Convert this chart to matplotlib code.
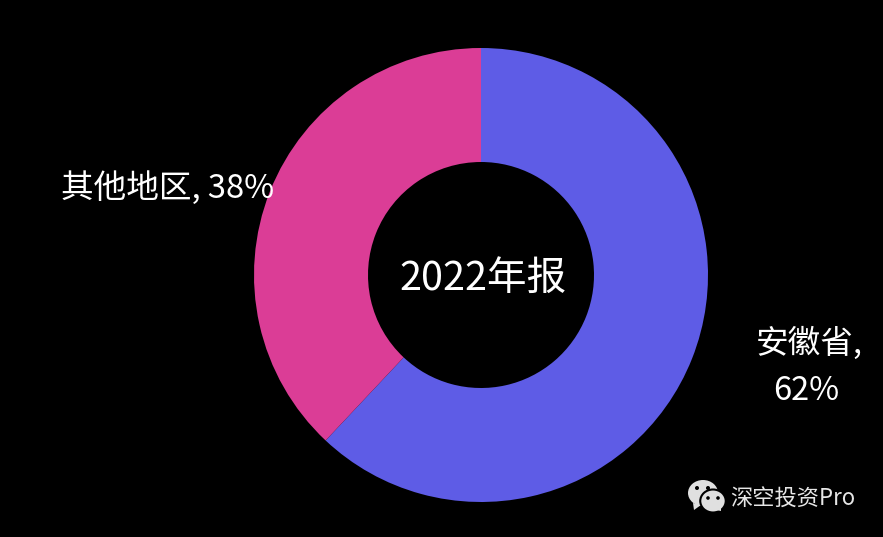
import matplotlib
matplotlib.use('Agg')
import matplotlib.pyplot as plt
from matplotlib.patches import Ellipse, Polygon

plt.rcParams['font.family'] = ['Noto Sans CJK SC', 'DejaVu Sans']

categories = ['安徽省', '其他地区']
values = [62, 38]
colors = ['#5E5CE6', '#DB3D96']
center_label = '2022年报'
watermark = '深空投资Pro'

W, H = 883, 537
fig = plt.figure(figsize=(W/100, H/100), dpi=100, facecolor='black')
ax = fig.add_axes([0, 0, 1, 1])

def Y(y):
    return H - y

R = 227
ax.pie(values, colors=colors, startangle=90, counterclock=False, center=(481, Y(275)), radius=R,
       wedgeprops=dict(width=R-113, linewidth=0), frame=True)
ax.set_xlim(0, W)
ax.set_ylim(0, H)
ax.set_aspect('equal')
ax.axis('off')

fs = 23.5
ax.text(168, Y(188), f'{categories[1]}, {values[1]}%', color='white', fontsize=fs,
        ha='center', va='center')
ax.text(809, Y(343), f'{categories[0]},', color='white', fontsize=fs, ha='center', va='center')
ax.text(806, Y(391), f'{values[0]}%', color='white', fontsize=fs, ha='center', va='center')
ax.text(483, Y(279), center_label, color='white', fontsize=28.5, ha='center', va='center')
ax.text(792.5, Y(499), watermark, color='#E6E6E6', fontsize=16, fontweight='medium', ha='center', va='center')

# WeChat logo
icon = '#E0E0E0'
ax.add_patch(Ellipse((703, Y(493)), 30, 26, fc=icon, ec='none', zorder=3))
ax.add_patch(Polygon([(693, Y(503)), (694, Y(510)), (701, Y(505))], fc=icon, ec='none', zorder=3))
ax.add_patch(Ellipse((713, Y(501)), 25.5, 23, fc=icon, ec='black', lw=1.5, zorder=4))
ax.add_patch(Polygon([(716, Y(510)), (721, Y(511)), (721, Y(506))], fc=icon, ec='none', zorder=5))
for ex, ey, z in [(697, 488, 5), (708, 488, 5)]:
    ax.add_patch(Ellipse((ex, Y(ey)), 4, 4, fc='black', ec='none', zorder=z))
for ex, ey in [(708, 498), (718, 498)]:
    ax.add_patch(Ellipse((ex, Y(ey)), 3.6, 3.6, fc='black', ec='none', zorder=6))

fig.savefig('out.png', dpi=100, facecolor='black')
